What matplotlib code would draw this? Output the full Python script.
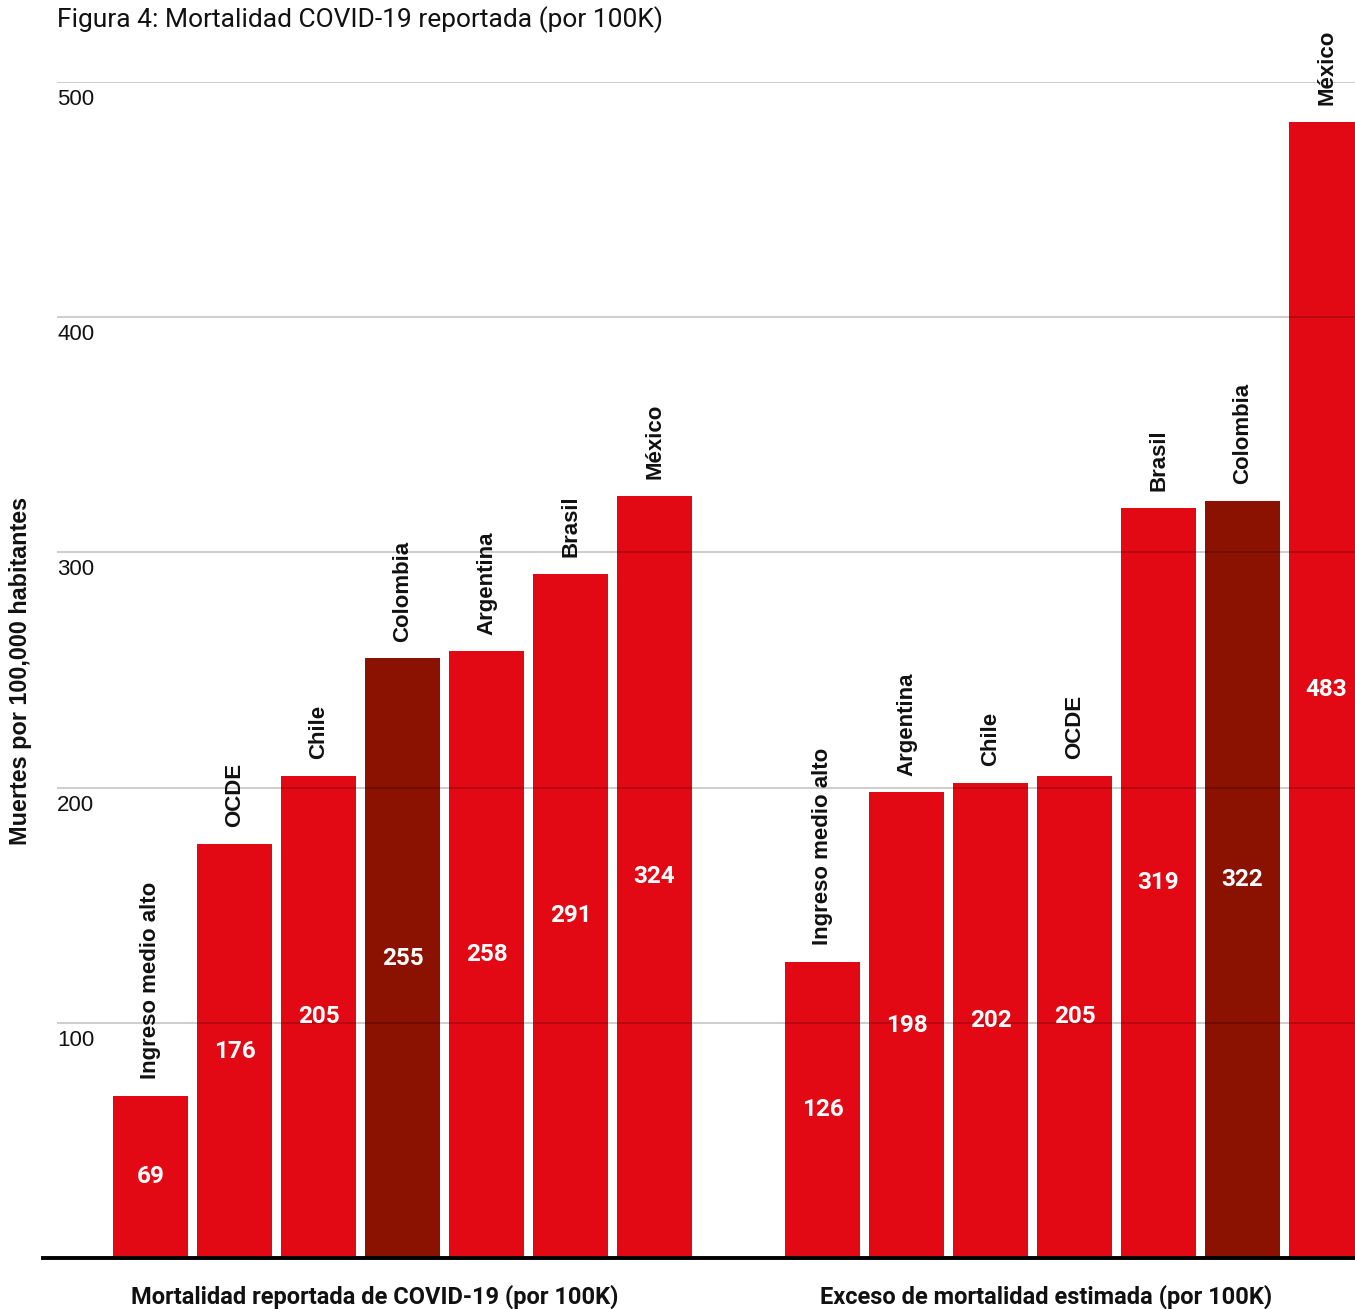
import numpy as np
import matplotlib
matplotlib.use("Agg")
import matplotlib.pyplot as plt

# reported COVID-19 deaths per 100k
reported_names = ["Ingreso medio alto", "OCDE", "Chile", "Colombia", "Argentina", "Brasil", "México"]
reported_vals = [69, 176, 205, 255, 258, 291, 324]

# estimated excess deaths per 100k
excess_names = ["Ingreso medio alto", "Argentina", "Chile", "OCDE", "Brasil", "Colombia", "México"]
excess_vals = [126, 198, 202, 205, 319, 322, 483]

group_titles = ["Mortalidad reportada de COVID-19 (por 100K)",
                "Exceso de mortalidad estimada (por 100K)"]
y_ticks = [100, 200, 300, 400, 500]

RED = "#E30914"
DARK = "#8B1100"
highlight = "Colombia"

W, H = 1355, 1309
fig = plt.figure(figsize=(W / 100, H / 100), dpi=100)

# axes box in pixels: x 57..1355, y(0)=1258, y(500)=82
left, right, y0px, y500px = 57, 1355, 1258, 82
ax = fig.add_axes([left / W, (H - y0px) / H, (right - left) / W, (y0px - y500px) / H])

step, first_c, bar_w = 84, 150.5, 75
ax.set_xlim((left - first_c) / step, (right - first_c) / step)
ax.set_ylim(0, 500)

pos1 = np.arange(len(reported_vals))
pos2 = np.arange(len(excess_vals)) + len(reported_vals) + 1
positions = list(pos1) + list(pos2)
names = reported_names + excess_names
vals = reported_vals + excess_vals
colors = [DARK if n == highlight else RED for n in names]

ax.bar(positions, vals, width=bar_w / step, color=colors, zorder=2)

for p, v, n in zip(positions, vals, names):
    ax.annotate(n, (p, v), xytext=(0, 12), textcoords="offset points",
                rotation=90, ha="center", va="bottom", fontsize=16,
                fontweight="bold", family="Liberation Sans", color="#111111")
    ax.text(p, v / 2, str(v), ha="center", va="center", fontsize=17.5,
            fontweight="bold", family="Roboto", color="white", zorder=4)

# gridlines over the bars
for t in y_ticks:
    ax.axhline(t, color="black", alpha=0.25, lw=1.1, zorder=3)
    ax.annotate(str(t), (ax.get_xlim()[0], t), xytext=(0, -5),
                textcoords="offset points", ha="left", va="top",
                fontsize=16, family="Liberation Sans", color="#111111")

# baseline extends a little past the gridlines on the left
ax.axhline(0, xmin=-(left - 43) / (right - left), xmax=1, color="black",
           lw=2.8, clip_on=False, zorder=5)

for g, centre in zip(group_titles, [pos1.mean() - 1 / 3, pos2.mean() - 1 / 3]):
    ax.annotate(g, (centre, 0), xytext=(0, -28), textcoords="offset points",
                ha="center", va="center", fontsize=17, fontweight="bold",
                family="Roboto", color="#111111", annotation_clip=False)

for s in ax.spines.values():
    s.set_visible(False)
ax.set_xticks([])
ax.set_yticks([])

fig.text(57 / W, 1 - 20 / H, "Figura 4: Mortalidad COVID-19 reportada (por 100K)",
         ha="left", va="center", fontsize=19, family="Roboto", color="#111111")
fig.text(21 / W, 1 - 671 / H, "Muertes por 100,000 habitantes", rotation=90,
         ha="center", va="center", fontsize=16.8, fontweight="bold",
         family="Liberation Sans", color="#111111")

fig.savefig("out.png", dpi=100)
